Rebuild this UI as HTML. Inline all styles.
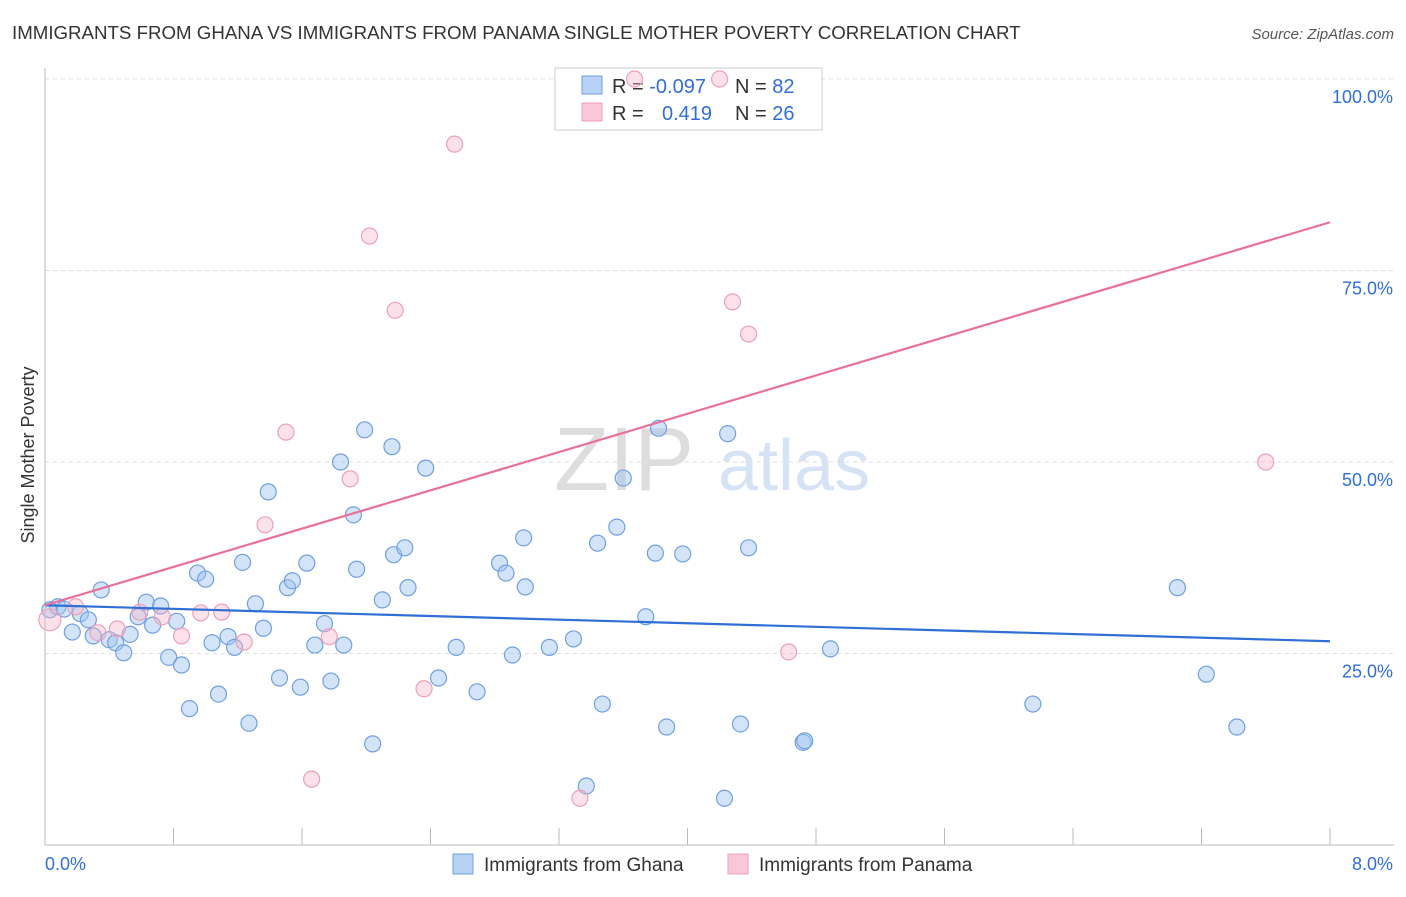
<!DOCTYPE html>
<html><head><meta charset="utf-8"><style>
body{margin:0;background:#fff;font-family:"Liberation Sans",sans-serif;}
svg text{font-family:"Liberation Sans",sans-serif;}
</style></head><body>
<svg id="chart" width="1406" height="892">
<text x="12" y="39" font-size="18.7" fill="#333">IMMIGRANTS FROM GHANA VS IMMIGRANTS FROM PANAMA SINGLE MOTHER POVERTY CORRELATION CHART</text>
<text x="1394" y="39" font-size="15" fill="#555" font-style="italic" text-anchor="end">Source: ZipAtlas.com</text>
<text x="694" y="490" font-size="90" fill="#ddd" text-anchor="end" font-family="Liberation Serif">ZIP</text>
<text x="718" y="490" font-size="72" fill="#d6e3f5">atlas</text>
<text transform="translate(34,455) rotate(-90)" font-size="18" fill="#333" text-anchor="middle">Single Mother Poverty</text>
<g id="grid"></g>
<rect x="555" y="68" width="267" height="62" fill="#fff" stroke="#ccc"/>
<rect x="582" y="76" width="20" height="18" fill="#b8d2f5" stroke="#6fa0e0"/>
<rect x="582" y="103" width="20" height="18" fill="#f9c8d6" stroke="#eea0b8"/>
<text x="612" y="93" font-size="20" fill="#333">R = <tspan fill="#2f6fd6">-0.097</tspan><tspan x="735">N = </tspan><tspan fill="#2f6fd6">82</tspan></text>
<text x="612" y="120" font-size="20" fill="#333">R = <tspan x="662" fill="#2f6fd6">0.419</tspan><tspan x="735">N = </tspan><tspan fill="#2f6fd6">26</tspan></text>
<g id="pts"></g><g id="lines"></g>
<text x="45" y="870" font-size="18" fill="#2f6fd6">0.0%</text>
<text x="1393" y="870" font-size="18" fill="#2f6fd6" text-anchor="end">8.0%</text>
<rect x="453" y="854" width="20" height="20" fill="#b8d2f5" stroke="#6fa0e0"/>
<text x="484" y="871" font-size="19" fill="#333">Immigrants from Ghana</text>
<rect x="728" y="854" width="20" height="20" fill="#f9c8d6" stroke="#eea0b8"/>
<text x="759" y="871" font-size="19" fill="#333">Immigrants from Panama</text>
</svg>
<script>
const ghanaX=[.03,.08,.12,.17,.22,.27,.30,.35,.40,.44,.49,.53,.58,.63,.67,.72,.77,.82,.85,.90,.95,1.00,1.04,1.08,1.14,1.18,1.23,1.27,1.31,1.36,1.39,1.46,1.51,1.54,1.59,1.63,1.68,1.74,1.78,1.84,1.86,1.92,1.94,1.99,2.04,2.10,2.16,2.17,2.24,2.26,2.37,2.45,2.56,2.69,2.83,2.87,2.91,2.98,2.99,3.14,3.29,3.37,3.44,3.47,3.56,3.60,3.74,3.80,3.82,3.87,3.97,4.23,4.25,4.33,4.38,4.72,4.73,4.89,6.15,7.05,7.23,7.42];
const ghanaY=[30.7,31.1,30.8,27.8,30.2,29.4,27.3,33.3,26.8,26.4,25.1,27.5,29.8,31.7,28.7,31.2,24.5,29.2,23.5,17.8,35.5,34.7,26.4,19.7,27.2,25.8,36.9,15.9,31.5,28.3,46.1,21.8,33.6,34.5,20.6,36.8,26.1,28.9,21.4,50.0,26.1,43.1,36.0,54.2,13.2,32.0,52.0,37.9,38.8,33.6,49.2,21.8,25.8,20.0,36.8,35.5,24.8,40.1,33.7,25.8,26.9,7.7,39.4,18.4,41.5,47.9,29.8,38.1,54.4,15.4,38.0,6.1,53.7,15.8,38.8,13.4,13.6,25.6,18.4,33.6,22.3,15.4];
const panamaX=[.03,.19,.33,.45,.59,.73,.85,.97,1.10,1.24,1.37,1.50,1.66,1.77,1.90,2.02,2.18,2.36,2.55,3.33,3.67,4.20,4.28,4.38,4.63,7.60];
const panamaY=[29.4,31.1,27.7,28.2,30.4,29.8,27.3,30.3,30.4,26.5,41.8,53.9,8.6,27.2,47.8,79.5,69.8,20.4,91.5,6.1,100,100,70.9,66.7,25.2,50.0];
const ghanaTrend=[31.3,26.6];
const panamaTrend=[31.3,81.3];
const yTicks=[25,50,75,100];
const yTickLabels=["25.0%","50.0%","75.0%","100.0%"];
const xTicks=[0,0.8,1.6,2.4,3.2,4.0,4.8,5.6,6.4,7.2,8.0];
const NS="http://www.w3.org/2000/svg";
const sx=v=>45+v/8*1285, sy=v=>845-v/100*766;
function mk(p,t,a){const e=document.createElementNS(NS,t);for(const k in a)e.setAttribute(k,a[k]);p.appendChild(e);return e;}
const g=document.getElementById('grid');
const ax=mk(g,'line',{x1:45,y1:845,x2:1394,y2:845,stroke:'#bbb'});


const ay=mk(g,'line',{x1:45,y1:68,x2:45,y2:845,stroke:'#bbb'});


yTicks.forEach((v,i)=>{
 const l=mk(g,'line',{x1:45,y1:sy(v),x2:1394,y2:sy(v),stroke:'#ddd','stroke-dasharray':'4,4'});
 
 
 const t=mk(g,'text',{x:1393,y:sy(v)+24,'font-size':18,fill:'#2f6fd6','text-anchor':'end'});
 t.textContent=yTickLabels[i];
 
 
});
xTicks.forEach(v=>{
 const l=mk(g,'line',{x1:sx(v),y1:828,x2:sx(v),y2:845,stroke:'#bbb'});
 
 
});
const P=document.getElementById('pts');
ghanaX.forEach((x,i)=>{
 const c=mk(P,'circle',{cx:sx(x),cy:sy(ghanaY[i]),r:8,fill:'rgba(160,196,240,0.45)',stroke:'#6fa0e0','stroke-width':1.2});
 
 
});
panamaX.forEach((x,i)=>{
 const c=mk(P,'circle',{cx:sx(x),cy:sy(panamaY[i]),r:i==0?11:8,fill:'rgba(245,180,200,0.4)',stroke:'#eea0b8','stroke-width':1.2});
 
 
});
const L=document.getElementById('lines');
const lb=mk(L,'line',{x1:sx(0),y1:sy(ghanaTrend[0]),x2:sx(8),y2:sy(ghanaTrend[1]),stroke:'#2f6fd6','stroke-width':2.2});


const lp=mk(L,'line',{x1:sx(0),y1:sy(panamaTrend[0]),x2:sx(8),y2:sy(panamaTrend[1]),stroke:'#e8709a','stroke-width':2.2});


</script>
</body></html>
